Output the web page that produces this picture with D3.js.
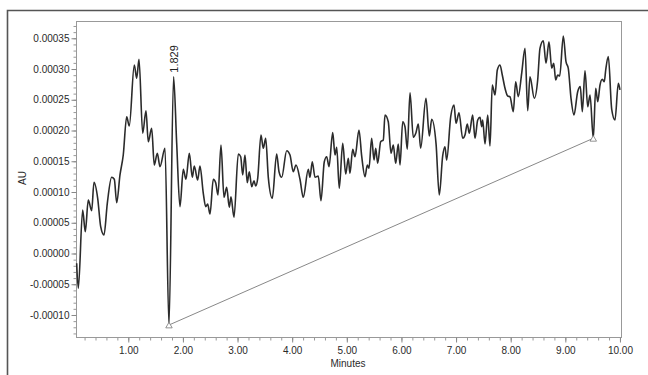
<!DOCTYPE html>
<html>
<head>
<meta charset="utf-8">
<script src="https://cdn.jsdelivr.net/npm/d3@7"></script>
<style>
  body { margin: 0; background: #fff; }
  svg { display: block; font-family: "Liberation Sans", Arial, sans-serif; }
</style>
</head>
<body>
<svg id="chart" width="648" height="375"></svg>
<script>
// retention time (minutes)
var times = [
  0.055, 0.085, 0.165, 0.213, 0.268, 0.330, 0.372, 0.440, 0.495, 0.555,
  0.616, 0.696, 0.744, 0.788, 0.848, 0.908, 0.971, 1.018, 1.110, 1.154,
  1.196, 1.264, 1.324, 1.366, 1.428, 1.476, 1.531, 1.580, 1.672, 1.745,
  1.829, 1.886, 1.946, 2.007, 2.056, 2.117, 2.172, 2.208, 2.270, 2.312,
  2.373, 2.417, 2.453, 2.496, 2.556, 2.600, 2.642, 2.697, 2.752, 2.801,
  2.849, 2.880, 2.935, 3.014, 3.058, 3.094, 3.136, 3.178, 3.215, 3.259,
  3.301, 3.332, 3.369, 3.429, 3.471, 3.515, 3.563, 3.636, 3.716, 3.759,
  3.808, 3.900, 3.960, 4.020, 4.070, 4.143, 4.203, 4.295, 4.326, 4.368,
  4.418, 4.478, 4.527, 4.588, 4.632, 4.674, 4.742, 4.784, 4.815, 4.862,
  4.925, 4.980, 5.027, 5.058, 5.108, 5.150, 5.223, 5.272, 5.333, 5.375,
  5.406, 5.455, 5.498, 5.529, 5.565, 5.620, 5.668, 5.699, 5.759, 5.809,
  5.851, 5.895, 5.942, 5.974, 6.023, 6.065, 6.107, 6.157, 6.217, 6.266,
  6.309, 6.352, 6.449, 6.510, 6.554, 6.633, 6.693, 6.755, 6.797, 6.828,
  6.902, 6.962, 6.999, 7.054, 7.121, 7.163, 7.205, 7.242, 7.304, 7.346,
  7.396, 7.438, 7.469, 7.487, 7.530, 7.579, 7.621, 7.663, 7.713, 7.755,
  7.804, 7.846, 7.896, 7.945, 7.987, 8.047, 8.091, 8.139, 8.201, 8.262,
  8.311, 8.353, 8.432, 8.494, 8.536, 8.597, 8.646, 8.701, 8.751, 8.787,
  8.824, 8.860, 8.897, 8.963, 9.012, 9.054, 9.104, 9.158, 9.226, 9.274,
  9.311, 9.360, 9.410, 9.452, 9.512, 9.556, 9.593, 9.635, 9.677, 9.713,
  9.739, 9.787, 9.849, 9.909, 9.970, 10.00
];

// absorbance (AU)
var absorb = [
  -1.59e-5, -5.66e-5, 7.07e-5, 3.55e-5, 8.70e-5, 6.96e-5, 11.58e-5, 8.98e-5, 4.36e-5, 3.01e-5,
  8.16e-5, 12.39e-5, 12.07e-5, 8.26e-5, 12.77e-5, 16.02e-5, 22.25e-5, 20.74e-5, 30.66e-5, 28.49e-5,
  31.58e-5, 19.55e-5, 23.22e-5, 18.18e-5, 20.36e-5, 14.39e-5, 16.30e-5, 14.12e-5, 17.11e-5, -11.63e-5,
  28.75e-5, 17.92e-5, 7.61e-5, 13.69e-5, 12.07e-5, 16.30e-5, 12.39e-5, 14.23e-5, 11.95e-5, 14.23e-5,
  9.79e-5, 7.61e-5, 8.05e-5, 6.42e-5, 12.07e-5, 11.51e-5, 9.51e-5, 17.65e-5, 9.14e-5, 10.77e-5,
  7.51e-5, 9.24e-5, 5.89e-5, 16.18e-5, 15.74e-5, 12.77e-5, 16.02e-5, 11.51e-5, 13.30e-5, 10.86e-5,
  11.84e-5, 10.98e-5, 12.23e-5, 19.27e-5, 17.11e-5, 18.73e-5, 12.39e-5, 8.98e-5, 16.18e-5, 13.30e-5,
  12.39e-5, 16.72e-5, 16.02e-5, 13.30e-5, 14.39e-5, 12.07e-5, 9.14e-5, 13.69e-5, 12.39e-5, 14.93e-5,
  12.39e-5, 12.60e-5, 8.59e-5, 14.93e-5, 15.74e-5, 14.12e-5, 19.65e-5, 16.02e-5, 17.27e-5, 10.60e-5,
  17.92e-5, 12.93e-5, 15.48e-5, 13.04e-5, 16.95e-5, 15.74e-5, 20.08e-5, 15.86e-5, 12.49e-5, 14.39e-5,
  13.86e-5, 18.73e-5, 15.21e-5, 17.11e-5, 14.67e-5, 18.18e-5, 18.46e-5, 22.52e-5, 21.43e-5, 16.30e-5,
  17.65e-5, 14.67e-5, 17.81e-5, 14.39e-5, 21.43e-5, 20.62e-5, 16.95e-5, 26.15e-5, 18.90e-5, 19.65e-5,
  21.06e-5, 17.11e-5, 25.24e-5, 19.11e-5, 21.83e-5, 17.92e-5, 9.51e-5, 15.86e-5, 17.37e-5, 15.21e-5,
  22.25e-5, 24.15e-5, 21.17e-5, 22.90e-5, 18.73e-5, 19.27e-5, 21.06e-5, 19.55e-5, 22.52e-5, 18.73e-5,
  21.71e-5, 22.15e-5, 20.62e-5, 21.71e-5, 17.81e-5, 22.52e-5, 17.48e-5, 27.40e-5, 25.78e-5, 29.84e-5,
  30.66e-5, 29.03e-5, 26.87e-5, 25.61e-5, 25.50e-5, 23.06e-5, 27.94e-5, 25.50e-5, 29.31e-5, 33.37e-5,
  23.22e-5, 28.75e-5, 25.24e-5, 28.22e-5, 33.37e-5, 34.61e-5, 30.93e-5, 34.44e-5, 30.12e-5, 30.93e-5,
  28.22e-5, 29.03e-5, 28.87e-5, 35.37e-5, 31.19e-5, 30.12e-5, 25.24e-5, 22.52e-5, 26.31e-5, 27.13e-5,
  23.06e-5, 29.73e-5, 23.87e-5, 25.78e-5, 18.73e-5, 26.87e-5, 24.69e-5, 27.40e-5, 28.33e-5, 27.94e-5,
  29.84e-5, 32.01e-5, 23.45e-5, 21.71e-5, 27.68e-5, 26.59e-5
];

// integration baseline of the labelled peak
var baseTimes = [1.745, 9.512];
var baseValues = [-11.63e-5, 18.73e-5];

var peakTime = 1.829;
var peakValue = 28.75e-5;
var peakLabel = "1.829";

var yTickValues = [-0.0001, -0.00005, 0, 0.00005, 0.0001, 0.00015, 0.0002, 0.00025, 0.0003, 0.00035];
var xTickValues = [1, 2, 3, 4, 5, 6, 7, 8, 9, 10];

function draw() {
  var svg = d3.select("#chart");
  var left = 76, right = 621, top = 21, bottom = 337;

  var x = d3.scaleLinear().domain([0.043, 10.019]).range([left, right]);
  var y = d3.scaleLinear().domain([-0.0001358, 0.0003781]).range([bottom, top]);

  // outer frame (top + left only)
  svg.append("path")
    .attr("d", "M7.5,375 V10.5 H648")
    .attr("fill", "none")
    .attr("stroke", "#555")
    .attr("stroke-width", 1.6);

  // plot box
  svg.append("rect")
    .attr("x", left + 0.5).attr("y", top + 0.5)
    .attr("width", right - left).attr("height", bottom - top)
    .attr("fill", "none")
    .attr("stroke", "#999")
    .attr("stroke-width", 1);

  // minor ticks
  var yMinor = d3.range(-0.00013, 0.000375, 0.00001);
  svg.append("g")
    .attr("transform", "translate(" + (left + 0.5) + ",0)")
    .call(d3.axisLeft(y).tickValues(yMinor).tickSize(3).tickFormat(""))
    .call(function (g) { g.select(".domain").remove(); })
    .selectAll("line").attr("stroke", "#999");

  var xMinor = d3.range(0.2, 10.01, 0.2);
  svg.append("g")
    .attr("transform", "translate(0," + (bottom + 0.5) + ")")
    .call(d3.axisBottom(x).tickValues(xMinor).tickSize(3).tickFormat(""))
    .call(function (g) { g.select(".domain").remove(); })
    .selectAll("line").attr("stroke", "#999");

  // major ticks + labels
  var yAxis = svg.append("g")
    .attr("transform", "translate(" + (left + 0.5) + ",0)")
    .call(d3.axisLeft(y).tickValues(yTickValues).tickSize(5).tickPadding(2)
      .tickFormat(function (d) { return d.toFixed(5); }));
  yAxis.select(".domain").remove();
  yAxis.selectAll("line").attr("stroke", "#888");
  yAxis.selectAll("text").attr("fill", "#2a2a2a").style("font-size", "10px");

  var xAxis = svg.append("g")
    .attr("transform", "translate(0," + (bottom + 0.5) + ")")
    .call(d3.axisBottom(x).tickValues(xTickValues).tickSize(5).tickPadding(4)
      .tickFormat(function (d) { return d.toFixed(2); }));
  xAxis.select(".domain").remove();
  xAxis.selectAll("line").attr("stroke", "#888");
  xAxis.selectAll("text").attr("fill", "#2a2a2a").style("font-size", "10px");

  // axis titles
  svg.append("text")
    .attr("transform", "translate(26,178) rotate(-90)")
    .attr("text-anchor", "middle")
    .attr("fill", "#2a2a2a")
    .style("font-size", "10px")
    .text("AU");

  svg.append("text")
    .attr("x", 348).attr("y", 367)
    .attr("text-anchor", "middle")
    .attr("fill", "#2a2a2a")
    .style("font-size", "10px")
    .text("Minutes");

  // baseline
  var base = baseTimes.map(function (t, i) { return [t, baseValues[i]]; });
  svg.append("path")
    .datum(base)
    .attr("fill", "none")
    .attr("stroke", "#888")
    .attr("stroke-width", 1)
    .attr("d", d3.line().x(function (d) { return x(d[0]); }).y(function (d) { return y(d[1]); }));

  // trace
  var pts = times.map(function (t, i) { return [t, absorb[i]]; });
  svg.append("path")
    .datum(pts)
    .attr("fill", "none")
    .attr("stroke", "#2b2b2b")
    .attr("stroke-width", 1.6)
    .attr("stroke-linejoin", "round")
    .attr("d", d3.line().curve(d3.curveMonotoneX)
      .x(function (d) { return x(d[0]); }).y(function (d) { return y(d[1]); }));

  // baseline end markers
  svg.selectAll(".mark")
    .data(base)
    .enter().append("path")
    .attr("class", "mark")
    .attr("transform", function (d) { return "translate(" + x(d[0]) + "," + (y(d[1]) + 1) + ")"; })
    .attr("d", d3.symbol(d3.symbolTriangle).size(18))
    .attr("fill", "#fff")
    .attr("stroke", "#777")
    .attr("stroke-width", 0.8);

  // peak label
  svg.append("text")
    .attr("transform", "translate(" + (x(peakTime) + 4) + "," + (y(peakValue) - 4) + ") rotate(-90)")
    .attr("text-anchor", "start")
    .attr("fill", "#222")
    .style("font-size", "11px")
    .text(peakLabel);
}

draw();
</script>
</body>
</html>
